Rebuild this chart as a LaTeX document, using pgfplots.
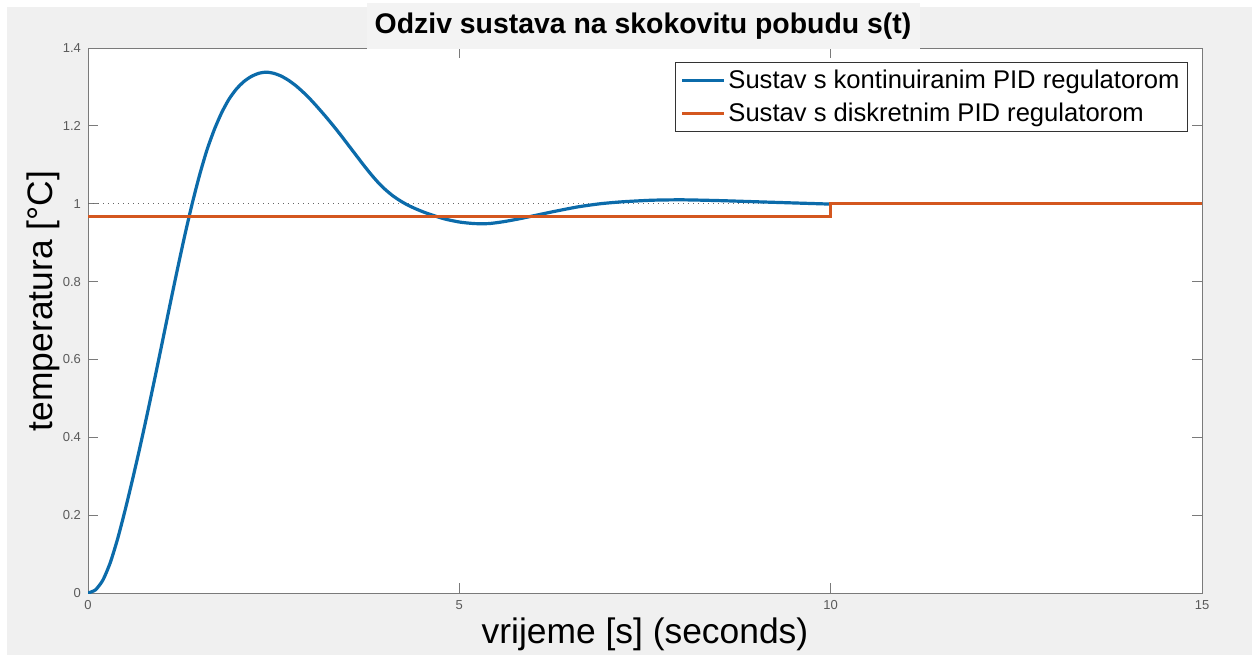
\documentclass[border=0pt]{standalone}
\usepackage{pgfplots}
\pgfplotsset{compat=1.18}
\usepackage{fontspec}
\setmainfont{Liberation Sans}
\definecolor{figbg}{HTML}{F0F0F0}
\definecolor{titlebg}{HTML}{F3F3F3}
\definecolor{mblue}{HTML}{0B6BAA}
\definecolor{morange}{HTML}{D4571F}
\definecolor{axgray}{HTML}{7A7A7A}
\definecolor{tickgray}{HTML}{5A5A5A}
\pgfplotstableread{
t y
0 0
0.1 0.008
0.2 0.033
0.3 0.078
0.4 0.140
0.5 0.213
0.6 0.292
0.7 0.375
0.8 0.462
0.9 0.552
1.0 0.644
1.1 0.737
1.2 0.828
1.3 0.916
1.4 0.998
1.5 1.072
1.6 1.137
1.7 1.190
1.8 1.234
1.9 1.269
2.0 1.295
2.1 1.314
2.2 1.327
2.3 1.335
2.4 1.338
2.5 1.335
2.6 1.328
2.7 1.317
2.8 1.303
2.9 1.286
3.0 1.267
3.1 1.246
3.2 1.224
3.3 1.201
3.4 1.177
3.5 1.152
3.6 1.127
3.7 1.102
3.8 1.078
3.9 1.056
4.0 1.037
4.1 1.021
4.2 1.008
4.3 0.997
4.4 0.988
4.5 0.980
4.6 0.973
4.8 0.961
5.0 0.953
5.2 0.949
5.4 0.949
5.6 0.954
5.8 0.961
6.0 0.969
6.3 0.981
6.6 0.992
6.9 1.000
7.2 1.005
7.6 1.009
8.0 1.010
8.5 1.008
9.0 1.005
9.5 1.002
10.0 0.999
}\contdata
\pgfplotstableread{
t y
0 0.968
10 0.968
10 1.0
15 1.0
}\discdata
\begin{document}
\begin{tikzpicture}
\path[use as bounding box, fill=white] (0,0) rectangle (626pt,327.5pt);
\fill[figbg] (3.5pt,0) rectangle (626pt,324pt);
\begin{axis}[
  at={(44pt,31pt)}, anchor=south west,
  scale only axis, width=557pt, height=272.5pt,
  xmin=0, xmax=15, ymin=0, ymax=1.4,
  xtick={0,5,10,15},
  ytick={0,0.2,0.4,0.6,0.8,1,1.2,1.4},
  tick align=inside, major tick length=5pt,
  axis line style={axgray, line width=0.5pt},
  every tick/.style={axgray, line width=0.5pt},
  tick label style={font=\fontsize{6.5pt}{8pt}\selectfont, text=tickgray},
  /pgf/number format/assume math mode=true,
  axis background/.style={fill=white},
  legend cell align=left,
  legend image code/.code={\draw[#1, line width=1.3pt] (0pt,0pt) -- (21pt,0pt);},
  legend style={at={(axis description cs:0.9874,0.9743)}, anchor=north east,
    draw=black!80, line width=0.5pt, fill=white, inner xsep=2.5pt, inner ysep=0.9pt,
    font=\fontsize{12.8pt}{15pt}\selectfont,
    nodes={inner xsep=1.5pt, inner ysep=2.8pt}},
]
\addplot[forget plot, black!60, dotted, line width=0.5pt] coordinates {(0,1) (15,1)};
\addplot[mblue, line width=1.6pt, smooth, tension=0.4] table[x=t, y=y] {\contdata};
\addlegendentry{Sustav s kontinuiranim PID regulatorom}
\addplot[morange, line width=1.6pt] table[x=t, y=y] {\discdata};
\addlegendentry{Sustav s diskretnim PID regulatorom}
\end{axis}
\fill[titlebg] (183.5pt,303.0pt) rectangle (460pt,326pt);
\node[anchor=base, inner sep=0pt, font=\fontsize{14.2pt}{17pt}\selectfont\bfseries] at (321.5pt,310.5pt) {Odziv sustava na skokovitu pobudu s(t)};
\node[anchor=base, inner sep=0pt, font=\fontsize{17.7pt}{21pt}\selectfont] at (322.5pt,6pt) {vrijeme [s] (seconds)};
\node[anchor=base, rotate=90, inner sep=0pt, font=\fontsize{17.7pt}{21pt}\selectfont] at (26pt,177pt) {temperatura [°C]};
\end{tikzpicture}
\end{document}
